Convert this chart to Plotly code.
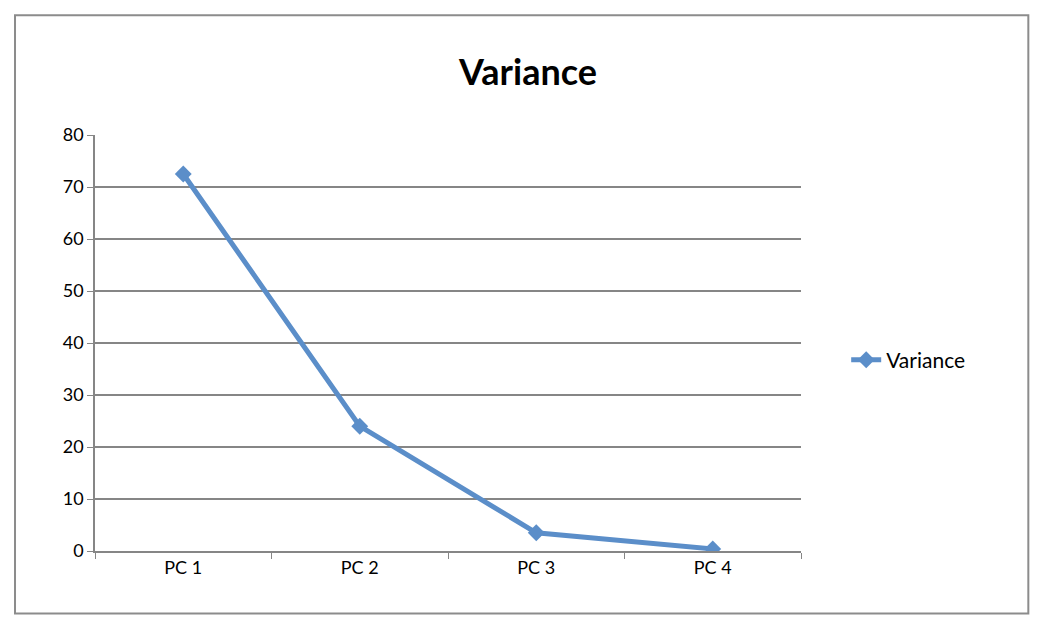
import plotly.graph_objects as go

components = ["PC 1", "PC 2", "PC 3", "PC 4"]
variance = [72.5, 24.0, 3.5, 0.4]

fig = go.Figure()
fig.add_trace(go.Scatter(x=components, y=variance, name="Variance", mode="lines+markers",
                         line=dict(color="#5b8ec9", width=5),
                         marker=dict(symbol="diamond", size=13, color="#5b8ec9")))

fig.update_layout(
    width=1040, height=617,
    paper_bgcolor="white", plot_bgcolor="white",
    margin=dict(l=87, r=247, t=127, b=74),
    font=dict(family="Lato", size=18, color="black"),
    title=dict(text="<b>Variance</b>", x=0.5, xanchor="center", y=0.895, yanchor="middle",
               font=dict(size=36, family="Lato")),
    legend=dict(x=1.064, y=0.459, yanchor="middle", xanchor="left", font=dict(size=21)),
    showlegend=True,
    shapes=[dict(type="rect", xref="paper", yref="paper", x0=-0.1133, x1=1.322,
                 y0=-0.15, y1=1.288, line=dict(color="#8c8c8c", width=2))],
)
fig.update_xaxes(range=[-0.5, 3.5], showline=True, linecolor="#868686", linewidth=1.5,
                 ticks="outside", tickson="boundaries", ticklen=6, tickcolor="#868686",
                 showgrid=False)
fig.update_yaxes(range=[0, 80], dtick=10, showgrid=True, gridcolor="#868686", gridwidth=1.5,
                 showline=True, linecolor="#868686", linewidth=1.5, ticks="outside",
                 ticklen=6, tickcolor="#868686", zeroline=False)

fig.write_html("out.html")
